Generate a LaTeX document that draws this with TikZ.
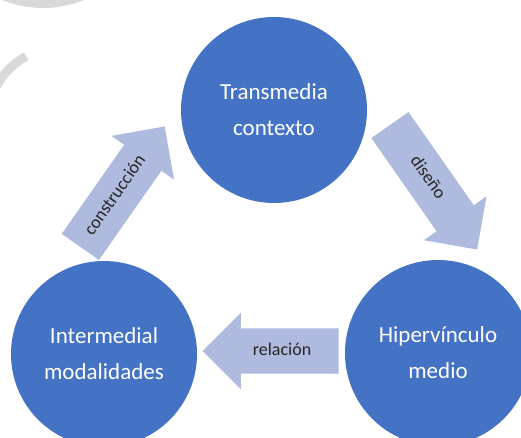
\documentclass[tikz,border=0pt]{standalone}
\usepackage{fontspec}
\setmainfont{Carlito}
\usetikzlibrary{shapes.arrows}
\definecolor{circblue}{RGB}{68,114,196}
\definecolor{arrowblue}{RGB}{174,186,222}
\definecolor{wmgrey}{RGB}{217,217,217}
\definecolor{labelgrey}{RGB}{38,38,38}
\tikzset{
  circ/.style={circle,fill=circblue,minimum size=186pt,inner sep=0pt,
    align=center,text=white,font=\fontsize{23}{36}\selectfont},
  fatarrow/.style={single arrow,fill=arrowblue,minimum height=#1,
    minimum width=76pt,single arrow head extend=15.5pt,
    text height=12pt,text depth=4pt,inner xsep=2pt,inner ysep=14.5pt,
    text=labelgrey,font=\fontsize{18}{20}\selectfont},
}

\begin{document}
\begin{tikzpicture}[x=1pt,y=-1pt]
  \useasboundingbox (0,0) rectangle (521,438);
  \clip (0,0) rectangle (521,438);
  % grey marks in the corner
  \fill[wmgrey] (43,-100) circle(108);
  \draw[wmgrey,line width=9pt] (60,120) ++(-152:72) arc(-152:-118:72);
  % circles
  \node[circ] (transmedia) at (274,110) {Transmedia\\contexto};
  \node[circ] (intermedial) at (104,354) {Intermedial\\modalidades};
  \node[circ] (hiper) at (438,353) {Hipervínculo\\medio};
  % arrows
  \node[fatarrow=147pt,rotate=55] (construccion) at (116,196) {construcción};
  \node[fatarrow=152pt,rotate=-55] (diseno) at (427,178) {diseño};
  \node[fatarrow=136pt,shape border rotate=180] (relacion) at (282,351) {relación};
 \end{tikzpicture}
\end{document}
